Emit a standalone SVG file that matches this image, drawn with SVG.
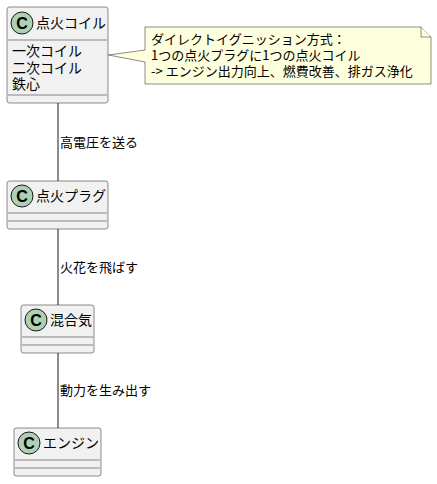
<svg xmlns="http://www.w3.org/2000/svg" width="437" height="484" viewBox="0 0 437 484">
<style>
.box{fill:#F1F1F1;stroke:#181818;stroke-width:0.5}
.sep{stroke:#181818;stroke-width:0.5}
.circ{fill:#ADD1B2;stroke:#181818;stroke-width:1}
.cl{font-family:"Liberation Sans",Arial,sans-serif;font-weight:bold;font-size:16px;fill:#000;text-anchor:middle}
.t{font-family:"Noto Sans CJK JP","DejaVu Sans",sans-serif;font-size:14px;fill:#000}
.s{font-family:"Noto Sans CJK JP","DejaVu Sans",sans-serif;font-size:13px;fill:#000}
.edge{stroke:#181818;stroke-width:1;fill:none}
.note{fill:#FEFFDD;stroke:#181818;stroke-width:0.5}
</style>
<rect width="437" height="484" fill="#FFFFFF"/>
<g id="connectors">
<line class="edge" x1="58" y1="103" x2="58" y2="181"/>
<line class="edge" x1="58" y1="229" x2="58" y2="305"/>
<line class="edge" x1="58" y1="353" x2="58" y2="428"/>
<text class="s" x="60" y="147">高電圧を送る</text>
<text class="s" x="60" y="272">火花を飛ばす</text>
<text class="s" x="60" y="395">動力を生み出す</text>
</g>
<g id="coil">
<rect class="box" x="7" y="7" width="101" height="96" rx="2.5"/>
<circle class="circ" cx="22" cy="23" r="11"/>
<text class="cl" x="22" y="29">C</text>
<text class="t" x="36" y="28">点火コイル</text>
<line class="sep" x1="8" y1="40" x2="107" y2="40"/>
<text class="t" x="12" y="56">一次コイル</text>
<text class="t" x="12" y="72.5">二次コイル</text>
<text class="t" x="12" y="89">鉄心</text>
<line class="sep" x1="8" y1="95" x2="107" y2="95"/>
</g>
<g id="note">
<path class="note" d="M145,27 L145,50 L108.5,55 L145,62 L145,84 L431,84 L431,37 L421,27 Z"/>
<path class="note" d="M421,27 L421,37 L431,37"/>
<text class="s" x="151" y="44">ダイレクトイグニッション方式：</text>
<text class="s" x="151" y="60">1つの点火プラグに1つの点火コイル</text>
<text class="s" x="151" y="76">-&gt; エンジン出力向上、燃費改善、排ガス浄化</text>
</g>
<g id="plug">
<rect class="box" x="7" y="181" width="101" height="48" rx="2.5"/>
<circle class="circ" cx="22" cy="196" r="11"/>
<text class="cl" x="22" y="202">C</text>
<text class="t" x="36" y="201">点火プラグ</text>
<line class="sep" x1="8" y1="213" x2="107" y2="213"/>
<line class="sep" x1="8" y1="221" x2="107" y2="221"/>
</g>
<g id="mixture">
<rect class="box" x="21" y="305" width="73" height="48" rx="2.5"/>
<circle class="circ" cx="36" cy="320" r="11"/>
<text class="cl" x="36" y="326">C</text>
<text class="t" x="50" y="325">混合気</text>
<line class="sep" x1="22" y1="337" x2="93" y2="337"/>
<line class="sep" x1="22" y1="345" x2="93" y2="345"/>
</g>
<g id="engine">
<rect class="box" x="14" y="428" width="87" height="48" rx="2.5"/>
<circle class="circ" cx="29" cy="443" r="11"/>
<text class="cl" x="29" y="449">C</text>
<text class="t" x="43" y="448">エンジン</text>
<line class="sep" x1="15" y1="460" x2="100" y2="460"/>
<line class="sep" x1="15" y1="468" x2="100" y2="468"/>
</g>
</svg>
